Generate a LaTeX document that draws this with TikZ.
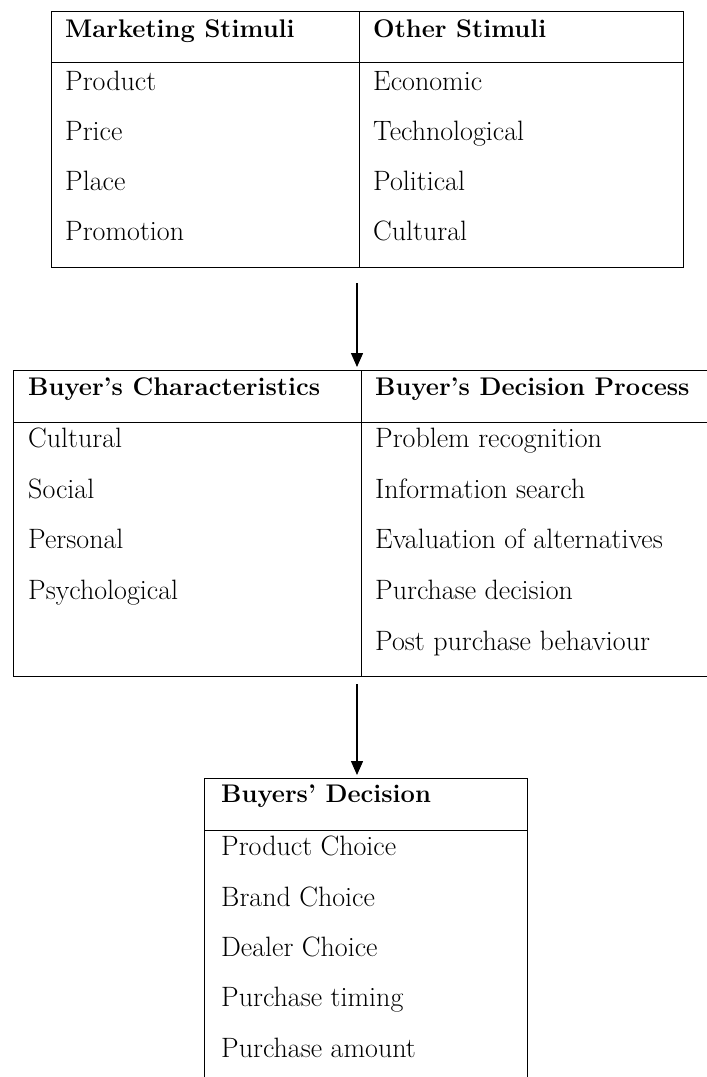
\documentclass[tikz,border=0pt]{standalone}
\usepackage{tikz}
\usetikzlibrary{arrows.meta}
\tikzset{
  cell/.style={anchor=base west, inner sep=0pt, font=\fontsize{28}{33}\selectfont},
  head/.style={cell, font=\fontsize{25.5}{30}\selectfont\bfseries},
  frame/.style={anchor=north west, inner sep=0pt},
  rule/.style={line width=1pt},
  flow/.style={line width=1.4pt, -{Triangle[length=14pt,width=12pt]}, shorten >=3pt}
}

\begin{document}
\begin{tikzpicture}[x=1pt, y=-1pt]
        \useasboundingbox (0,0) rectangle (707,1077);
        % Stimuli table
        \node (stimuli) [frame, draw, rule, minimum width=632pt, minimum height=256pt] at (51,11) {};
        \draw[rule] (stimuli.west |- 0,62) -- (stimuli.east |- 0,62);
        \draw[rule] (359,11) -- (359,267);
        \node (mkt) [head] at (65,37) {Marketing Stimuli};
        \node (other) [head] at (373,37) {Other Stimuli};
        \node (product) [cell] at (65,90) {Product};
        \node (price) [cell] at (65,140) {Price};
        \node (place) [cell] at (65,190) {Place};
        \node (promo) [cell] at (65,240) {Promotion};
        \node (econ) [cell] at (373,90) {Economic};
        \node (tech) [cell] at (373,140) {Technological};
        \node (polit) [cell] at (373,190) {Political};
        \node (cult) [cell] at (373,240) {Cultural};

        % Buyer's black box table (runs off the right edge)
        \node (buyer) [frame, minimum width=694pt, minimum height=306pt] at (13,370) {};
        \draw[rule] (buyer.north east) -- (buyer.north west) -- (buyer.south west) -- (buyer.south east);
        \draw[rule] (buyer.west |- 0,422) -- (buyer.east |- 0,422);
        \draw[rule] (361,370) -- (361,676);
        \node (chars) [head] at (28,395) {Buyer's Characteristics};
        \node (process) [head] at (375,395) {Buyer's Decision Process};
        \node (cultural) [cell] at (28,447) {Cultural};
        \node (social) [cell] at (28,498) {Social};
        \node (personal) [cell] at (28,548) {Personal};
        \node (psych) [cell] at (28,599) {Psychological};
        \node (problem) [cell] at (375,447) {Problem recognition};
        \node (search) [cell] at (375,498) {Information search};
        \node (evaluation) [cell] at (375,548) {Evaluation of alternatives};
        \node (purchase) [cell] at (375,599) {Purchase decision};
        \node (post) [cell] at (375,650) {Post purchase behaviour};

        % Buyers' decision table (runs off the bottom edge)
        \node (decision) [frame, minimum width=323pt, minimum height=299pt] at (204,778) {};
        \draw[rule] (decision.south west) -- (decision.north west) -- (decision.north east) -- (decision.south east);
        \draw[rule] (decision.west |- 0,830) -- (decision.east |- 0,830);
        \node (bdec) [head] at (221,802) {Buyers' Decision};
        \node (pchoice) [cell] at (221,855) {Product Choice};
        \node (bchoice) [cell] at (221,906) {Brand Choice};
        \node (dchoice) [cell] at (221,956) {Dealer Choice};
        \node (timing) [cell] at (221,1006) {Purchase timing};
        \node (amount) [cell] at (221,1057) {Purchase amount};

        % Arrows between tables
        \coordinate (a1) at (357,283);
        \coordinate (a2) at (357,684);
        \draw[flow] (a1) -- (a1 |- buyer.north);
        \draw[flow] (a2) -- (a2 |- decision.north);
    \end{tikzpicture}
\end{document}
